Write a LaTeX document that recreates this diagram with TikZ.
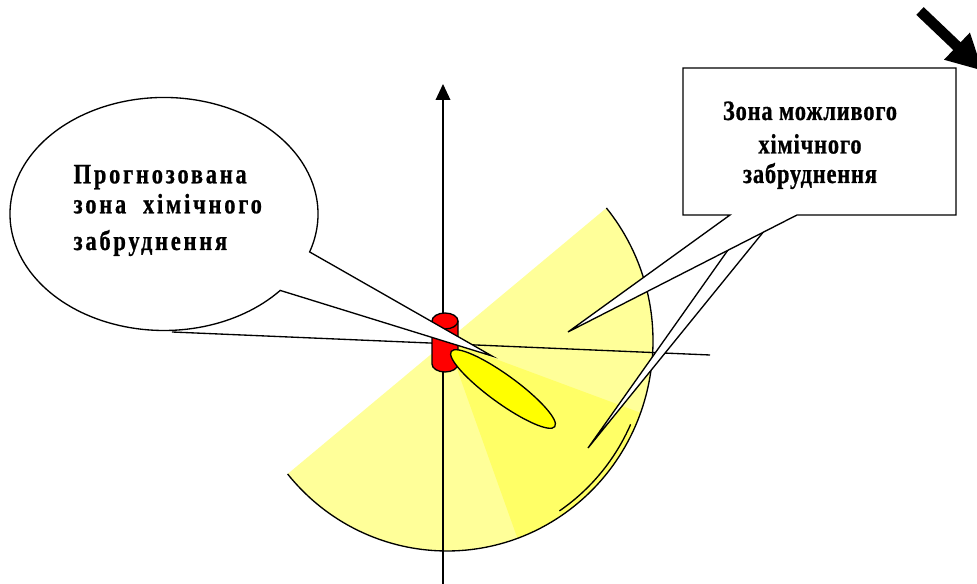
\documentclass[tikz,border=0pt]{standalone}
\usepackage{fontspec}
\setmainfont{Liberation Serif}
\newfontfamily\possfont[FakeStretch=0.8, LetterSpace=3, FakeBold=0.8]{Liberation Serif Bold}
\newfontfamily\predfont[FakeStretch=0.8, LetterSpace=10, FakeBold=0.8]{Liberation Serif Bold}
\definecolor{Zonecol}{HTML}{FFFF99}
\definecolor{Zonedark}{HTML}{FFFF66}
\definecolor{Cloudcol}{HTML}{FFFF00}
\definecolor{Srccol}{HTML}{FF0000}
\usetikzlibrary{arrows.meta}
\tikzset{
    >=Triangle,
    posstext/.style={font=\possfont\fontsize{21}{25}\selectfont, inner sep=0pt},
    predtext/.style={font=\predfont\fontsize{21}{25}\selectfont, inner sep=0pt}
}

\begin{document}
\begin{tikzpicture}[x=0.75pt, y=0.75pt, line width=1pt]
    \clip (0,0) rectangle (977,584);

    % Coordinates
    \coordinate (S) at (447,243);   % centre of the possible zone
    \coordinate (Ybot) at (443,0);
    \coordinate (Ytop) at (443,500);
    \coordinate (Xl) at (172,252);
    \coordinate (Xr) at (710,229);
    \coordinate (Cl) at (164,370);  % centre of the round callout
    \coordinate (TipL) at (492,228);
    \coordinate (TipA) at (568,252);
    \coordinate (TipB) at (588,136);
    \coordinate (WindS) at (920,573);
    \coordinate (WindE) at (983,513);

    % Possible zone (half disc) and the darker wedge
    \fill[Zonecol] (S) -- ++(39.3:206 and 210) arc[start angle=39.3, end angle=-140.7, x radius=206, y radius=210] -- cycle;
    \fill[Zonedark] (S) -- ++(-20:206 and 210) arc[start angle=-20, end angle=-70, x radius=206, y radius=210] -- cycle;
    \draw (S) ++(39.3:206 and 210) arc[start angle=39.3, end angle=-140.7, x radius=206, y radius=210];
    \draw (S) ++(-24:201 and 205) arc[start angle=-24, end angle=-56, x radius=201, y radius=205];

    % Axes
    \draw[-{Triangle[length=12pt, width=11pt]}] (Ybot) -- (Ytop);
    \draw (Xl) -- (Xr);

    % Source (cylinder)
    \filldraw[fill=Srccol] (432,263) -- (432,220) arc[start angle=180, end angle=360, x radius=13, y radius=8] -- (458,263) arc[start angle=0, end angle=180, x radius=13, y radius=8] -- cycle;
    \draw (432,263) arc[start angle=180, end angle=360, x radius=13, y radius=8];

    % Predicted cloud
    \filldraw[fill=Cloudcol, rotate around={-36:(503,195)}] (503,195) ellipse[x radius=64, y radius=14];

    % Round callout
    \filldraw[fill=white] (Cl) ++(-19:154 and 116.5) arc[start angle=-19, end angle=319, x radius=154, y radius=116.5] -- (TipL) -- cycle;

    % Box callout with two pointers
    \filldraw[fill=white] (757,375) -- (TipB) -- (782,375) -- cycle;
    \filldraw[fill=white] (683,369) -- (730,369) -- (TipA) -- (797,369) -- (956,369) -- (956,516) -- (683,516) -- cycle;

    % Labels
    \node[posstext, anchor=base] (possA) at (810,464) {Зона можливого};
    \node[posstext, anchor=base] (possB) at (810,430.5) {хімічного};
    \node[posstext, anchor=base] (possC) at (810,401) {забруднення};
    \node[predtext, anchor=base west] (predA) at (73,400.7) {Прогнозована};
    \node[predtext, anchor=base west] (predB) at (73,370.7) {зона\ \ хімічного};
    \node[predtext, anchor=base west] (predC) at (73,334) {забруднення};

    % Wind direction
    \draw[line width=8pt, -{Triangle[length=27pt, width=26pt]}] (WindS) -- (WindE);
\end{tikzpicture}
\end{document}
